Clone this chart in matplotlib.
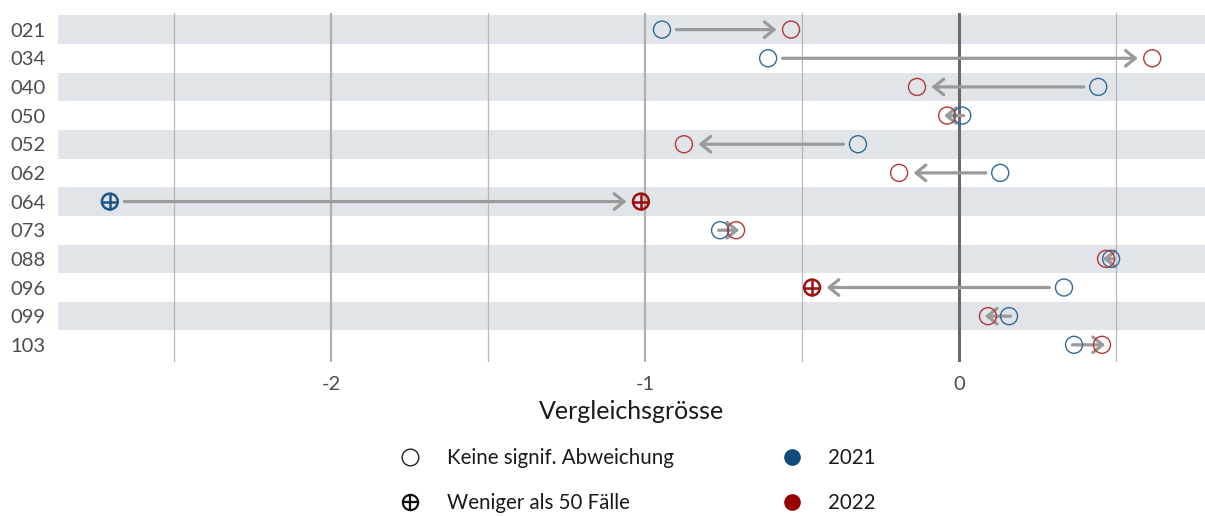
import matplotlib
matplotlib.use("Agg")
import matplotlib.pyplot as plt
from matplotlib.lines import Line2D

plt.rcParams["font.family"] = ["Lato", "DejaVu Sans"]

# data
codes = ["021", "034", "040", "050", "052", "062", "064", "073", "088", "096", "099", "103"]
v2021 = [-0.946, -0.608, 0.443, 0.010, -0.322, 0.131, -2.704, -0.761, 0.484, 0.334, 0.159, 0.366]
v2022 = [-0.535, 0.615, -0.134, -0.038, -0.876, -0.191, -1.013, -0.710, 0.468, -0.468, 0.092, 0.455]
few2021 = [False, False, False, False, False, False, True, False, False, False, False, False]
few2022 = [False, False, False, False, False, False, True, False, False, True, False, False]

BLUE = "#2e6b98"
RED = "#b3373b"
BLUE_X = "#1c5783"
RED_X = "#9e1010"
ARROW = "#9a9a9a"
BAND = "#e1e4e8"

W, H = 1205, 516
fig = plt.figure(figsize=(W / 100, H / 100), dpi=100)
ax = fig.add_axes([58 / W, 1 - 362 / H, (W - 58) / W, (362 - 13) / H])

n = len(codes)
ax.set_xlim(-2.869, 0.783)
ax.set_ylim(n - 0.4, -0.58)

for i in range(0, n, 2):
    ax.axhspan(i - 0.5, i + 0.5, color=BAND, lw=0, zorder=0)

for x in [-2.5, -1.5, -0.5, 0.5]:
    ax.axvline(x, color="#b8b8b8", lw=0.9, zorder=1)
for x in [-2, -1]:
    ax.axvline(x, color="#b0b0b0", lw=1.6, zorder=1)
ax.axvline(0, color="#6a6a6a", lw=2.2, zorder=1)

# arrows 2021 -> 2022
gap = 0.046
for i in range(n):
    x1, x2 = v2021[i], v2022[i]
    d = x2 - x1
    s = 1 if d > 0 else -1
    if abs(d) > 2 * gap + 0.03:
        a, b = x1 + s * gap, x2 - s * gap
    else:
        a, b = x1 - s * 0.005, x2 + s * 0.01
    ax.annotate("", xy=(b, i), xytext=(a, i),
                arrowprops=dict(arrowstyle="->,head_length=0.5,head_width=0.4",
                                mutation_scale=14, color=ARROW, lw=2.3,
                                shrinkA=0, shrinkB=0),
                zorder=2)

ys = list(range(n))
for vals, few, col, colx in [(v2021, few2021, BLUE, BLUE_X), (v2022, few2022, RED, RED_X)]:
    xo = [v for v, f in zip(vals, few) if not f]
    yo = [y for y, f in zip(ys, few) if not f]
    xf = [v for v, f in zip(vals, few) if f]
    yf = [y for y, f in zip(ys, few) if f]
    ax.scatter(xo, yo, s=150, facecolors="none", edgecolors=col, linewidths=1.0, zorder=3)
    ax.scatter(xf, yf, s=130, facecolors="none", edgecolors=colx, linewidths=1.8, zorder=3)
    ax.scatter(xf, yf, s=130, marker="+", color=colx, linewidths=1.8, zorder=3)

ax.set_yticks(ys)
ax.set_yticklabels(codes)
ax.set_xticks([-2, -1, 0])
ax.set_xticklabels(["-2", "-1", "0"])
ax.tick_params(length=0, labelsize=14.5, labelcolor="#4d4d4d")
ax.tick_params(axis="y", pad=9)
ax.tick_params(axis="x", pad=10)
ax.set_xlabel("Vergleichsgrösse", fontsize=18, color="#1a1a1a", labelpad=5)
for sp in ax.spines.values():
    sp.set_visible(False)

# legend drawn by hand in pixel coordinates
lax = fig.add_axes([0, 0, 1, 1])
lax.set_xlim(0, W)
lax.set_ylim(H, 0)
lax.axis("off")
lax.add_line(Line2D([410], [457], marker="o", ms=12, mfc="none", mec="#222222", mew=1.0))
lax.add_line(Line2D([410], [502], marker="o", ms=11, mfc="none", mec="#111111", mew=1.6))
lax.add_line(Line2D([410], [502], marker="+", ms=11, color="#111111", mew=1.6))
lax.add_line(Line2D([792], [457], marker="o", ms=12, mfc="#0f4c7c", mec="#0f4c7c", mew=0))
lax.add_line(Line2D([792], [502], marker="o", ms=12, mfc="#990000", mec="#990000", mew=0))
lax.text(447, 458, "Keine signif. Abweichung", fontsize=14.8, va="center", color="#1a1a1a")
lax.text(447, 503, "Weniger als 50 Fälle", fontsize=14.8, va="center", color="#1a1a1a")
lax.text(828, 458, "2021", fontsize=14.8, va="center", color="#1a1a1a")
lax.text(828, 503, "2022", fontsize=14.8, va="center", color="#1a1a1a")

fig.savefig("out.png", dpi=100)
